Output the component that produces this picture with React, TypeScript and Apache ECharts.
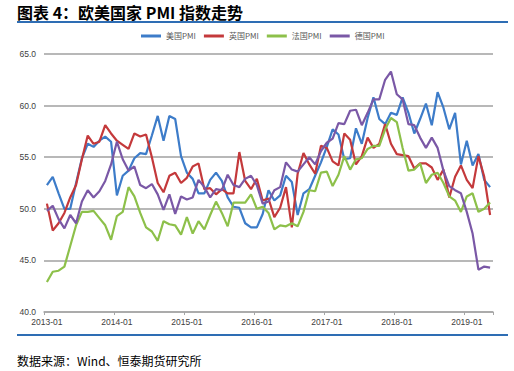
import React, { useEffect, useRef } from "react";
import * as echarts from "echarts";

const months: string[] = [];
for (let y = 2013; y <= 2019; y++) {
  for (let m = 1; m <= 12; m++) {
    if (y === 2019 && m > 5) break;
    months.push(`${y}-${m < 10 ? "0" + m : m}`);
  }
}

const usPMI = [
  52.3, 53.1, 51.5, 50.0, 50.0, 52.5, 54.9, 56.3, 56.0, 56.6, 57.0, 56.5,
  51.3, 53.2, 53.7, 54.9, 55.4, 55.3, 57.1, 59.0, 56.6, 59.0, 58.7, 55.1,
  53.5, 52.9, 51.5, 51.5, 52.8, 53.5, 52.7, 51.1, 50.2, 50.1, 48.6, 48.2,
  48.2, 49.5, 51.8, 50.8, 51.3, 53.2, 52.6, 49.4, 51.5, 51.9, 53.2, 54.5,
  56.0, 57.7, 57.2, 54.8, 54.9, 57.8, 56.3, 58.8, 60.8, 58.7, 58.2, 59.3,
  59.1, 60.8, 59.3, 57.3, 58.7, 60.2, 58.1, 61.3, 59.8, 57.7, 59.3, 54.3,
  56.6, 54.2, 55.3, 52.8, 52.1,
];
const ukPMI = [
  50.5, 47.9, 48.6, 49.6, 51.1, 52.3, 54.8, 57.1, 56.3, 56.5, 58.1, 57.3,
  56.6, 56.2, 55.8, 57.3, 57.0, 57.2, 55.0, 52.5, 51.6, 53.2, 53.5, 52.5,
  53.0, 54.1, 54.4, 51.9, 52.0, 51.4, 51.9, 51.5, 51.5, 55.5, 52.7, 51.9,
  52.9, 50.8, 51.0, 49.2, 50.1, 52.1, 48.2, 53.4, 55.4, 54.3, 53.4, 56.1,
  55.9, 54.6, 54.2, 57.3, 56.7, 54.3, 55.1, 56.9, 55.9, 56.3, 58.2, 56.3,
  55.3, 55.2, 55.1, 53.9, 54.4, 54.4, 54.0, 52.8, 53.8, 51.1, 53.1, 54.2,
  52.8, 52.0, 55.1, 53.1, 49.4,
];
const frPMI = [
  42.9, 43.9, 44.0, 44.4, 46.4, 48.4, 49.7, 49.7, 49.8, 49.1, 48.4, 47.0,
  49.3, 49.7, 52.1, 51.2, 49.6, 48.2, 47.8, 46.9, 48.8, 48.5, 48.4, 47.5,
  49.2, 47.6, 48.8, 48.0, 49.4, 50.7, 49.6, 48.3, 50.6, 50.6, 50.6, 51.4,
  50.0, 50.2, 49.6, 48.0, 48.4, 48.3, 48.6, 48.3, 49.7, 51.8, 51.7, 53.5,
  53.6, 52.2, 53.3, 55.1, 53.8, 54.8, 54.9, 55.8, 56.1, 56.1, 57.7, 58.8,
  58.4, 55.9, 53.7, 53.8, 54.4, 52.5, 53.3, 53.5, 52.5, 51.2, 50.8, 49.7,
  51.2, 51.5, 49.7, 50.0, 50.6,
];
const dePMI = [
  49.8, 50.3, 49.0, 48.1, 49.4, 48.6, 50.7, 51.8, 51.1, 51.7, 52.7, 54.3,
  56.5, 54.8, 53.7, 54.1, 52.3, 52.0, 52.4, 51.4, 49.9, 51.4, 49.5, 51.2,
  50.9, 51.1, 52.8, 52.1, 51.1, 51.9, 51.8, 53.3, 52.3, 52.1, 52.9, 53.2,
  52.3, 50.5, 50.7, 51.8, 52.1, 54.5, 53.8, 53.6, 54.3, 55.0, 54.3, 55.6,
  56.4, 56.8, 58.3, 58.2, 59.5, 59.6, 58.1, 59.3, 60.6, 60.6, 62.5, 63.3,
  61.1, 60.6, 58.2, 58.1, 56.9, 55.9, 56.9, 55.9, 53.7, 52.2, 51.8, 51.5,
  49.7, 47.6, 44.1, 44.4, 44.3,
];

const seriesNames = ["美国PMI", "英国PMI", "法国PMI", "德国PMI"];
const seriesColors = ["#3D7CC9", "#C4393B", "#8DC04A", "#7A58A6"];
const seriesData = [usPMI, ukPMI, frPMI, dePMI];

const titleText = "图表 4：欧美国家 PMI 指数走势";
const sourceText = "数据来源：Wind、恒泰期货研究所";

export default function App() {
  const ref = useRef<HTMLDivElement>(null);
  useEffect(() => {
    if (!ref.current) return;
    const chart = echarts.init(ref.current, undefined, { renderer: "svg" });
    chart.setOption({
      animation: false,
      backgroundColor: "#ffffff",
      textStyle: { fontFamily: "Arial, 'Liberation Sans', 'Noto Sans CJK SC', sans-serif" },
      graphic: [
        {
          type: "text",
          left: 17,
          top: 4,
          style: {
            text: titleText,
            fontSize: 16,
            fontWeight: "bold",
            fill: "#000",
            fontFamily: "'Noto Sans CJK SC', sans-serif",
          },
        },
        {
          type: "rect",
          shape: { x: 17, y: 21, width: 491, height: 2 },
          style: { fill: "#2E6DB4" },
        },
        {
          type: "rect",
          shape: { x: 17, y: 334, width: 491, height: 2 },
          style: { fill: "#2E6DB4" },
        },
        {
          type: "text",
          left: 17,
          top: 354,
          style: {
            text: sourceText,
            fontSize: 12,
            fill: "#000",
            fontFamily: "'Noto Sans CJK SC', sans-serif",
          },
        },
      ],
      legend: {
        top: 27,
        left: 136,
        icon: "rect",
        itemWidth: 20,
        itemHeight: 3,
        itemGap: 8,
        textStyle: { fontSize: 8, color: "#595959", fontFamily: "'Noto Sans CJK SC', sans-serif" },
        data: seriesNames,
      },
      grid: { left: 44, right: 21, top: 54, bottom: 59, containLabel: false },
      xAxis: {
        type: "category",
        data: months,
        boundaryGap: true,
        axisLine: { show: true, lineStyle: { color: "#A6A6A6", width: 1.5 } },
        axisTick: { show: true, interval: 11, length: 3, lineStyle: { color: "#A6A6A6" } },
        axisLabel: { interval: 11, fontSize: 8.5, color: "#404040", margin: 6 },
        splitLine: { show: false },
      },
      yAxis: {
        type: "value",
        min: 40,
        max: 65,
        interval: 5,
        axisLine: { show: false },
        axisTick: { show: false },
        axisLabel: {
          fontSize: 8.5,
          color: "#404040",
          margin: 8,
          formatter: (v: number) => v.toFixed(1),
        },
        splitLine: { lineStyle: { color: "#A0A0A0", width: 1.5 } },
      },
      series: seriesNames.map((name, i) => ({
        name,
        type: "line",
        data: seriesData[i],
        showSymbol: false,
        symbol: "none",
        lineStyle: { color: seriesColors[i], width: 2.2 },
        itemStyle: { color: seriesColors[i] },
      })),
    });
    return () => chart.dispose();
  }, []);
  return (
    <div
      ref={ref}
      style={{ position: "fixed", left: 0, top: 0, width: 514, height: 371 }}
    />
  );
}
